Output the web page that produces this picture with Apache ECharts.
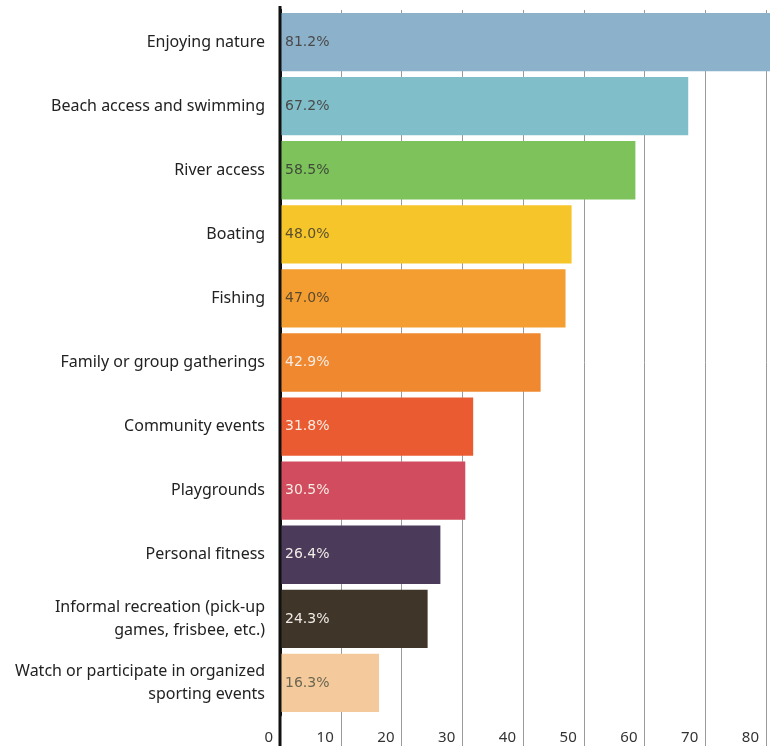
<!DOCTYPE html>
<html>
<head>
<meta charset="utf-8">
<script src="https://cdn.jsdelivr.net/npm/echarts@6/dist/echarts.min.js"></script>
<style>
html,body{margin:0;padding:0;background:#fff;}
#chart{width:770px;height:746px;}
</style>
</head>
<body>
<div id="chart"></div>
<script>
var categories = [
  "Enjoying nature",
  "Beach access and swimming",
  "River access",
  "Boating",
  "Fishing",
  "Family or group gatherings",
  "Community events",
  "Playgrounds",
  "Personal fitness",
  "Informal recreation (pick-up\ngames, frisbee, etc.)",
  "Watch or participate in organized\nsporting events"
];
var values = [81.2, 67.2, 58.5, 48.0, 47.0, 42.9, 31.8, 30.5, 26.4, 24.3, 16.3];
var barColors = ["#8cb1ca", "#80bfca", "#7dc25b", "#f6c52a", "#f49d30", "#f0882f", "#eb5b32", "#d04c5e", "#4b3a5a", "#3f3629", "#f4c99c"];
var labelColors = ["#4a4a4a", "#4a4a4a", "#3f4a3a", "#5a5030", "#5a4a30", "#f6ece4", "#f6ece4", "#f6ece4", "#f2ece8", "#f2ece8", "#6a6650"];
var xTicks = [0, 10, 20, 30, 40, 50, 60, 70, 80];

var chart = echarts.init(document.getElementById('chart'), null, {renderer: 'canvas'});
var data = values.map(function (v, i) {
  return {
    value: v,
    itemStyle: {color: barColors[i]},
    label: {color: labelColors[i]}
  };
});
var option = {
  animation: false,
  grid: {left: 280, right: 4, top: 10, bottom: 31, containLabel: false},
  xAxis: {
    type: 'value',
    min: xTicks[0],
    max: xTicks[xTicks.length - 1],
    interval: 10,
    axisLine: {show: false},
    axisTick: {show: true, length: 31, lineStyle: {color: '#9a9a9a', width: 1}},
    splitLine: {show: true, lineStyle: {color: '#9a9a9a', width: 1}},
    axisLabel: {
      show: true, margin: 15, align: 'right', padding: [0, 7, 0, 0],
      fontFamily: 'Noto Sans', fontSize: 15, color: '#333'
    }
  },
  yAxis: {
    type: 'category',
    data: categories,
    inverse: true,
    axisLine: {show: true, lineStyle: {color: '#111', width: 3}},
    axisTick: {show: false},
    axisLabel: {
      margin: 15, fontFamily: 'Noto Sans', fontSize: 16,
      color: '#222', lineHeight: 23, align: 'right'
    }
  },
  series: [{
    type: 'bar',
    data: data,
    barCategoryGap: '9%',
    clip: false,
    label: {
      show: true, position: 'insideLeft', distance: 5,
      fontFamily: 'DejaVu Sans', fontSize: 14,
      formatter: function (p) { return p.value.toFixed(1) + '%'; }
    }
  }]
};
chart.setOption(option);
var x0 = chart.convertToPixel({xAxisIndex: 0}, 0);
chart.setOption({
  graphic: [{
    type: 'line', z: 100,
    shape: {x1: x0, y1: 6, x2: x0, y2: 746},
    style: {stroke: '#111', lineWidth: 3}
  }]
});
</script>
</body>
</html>
